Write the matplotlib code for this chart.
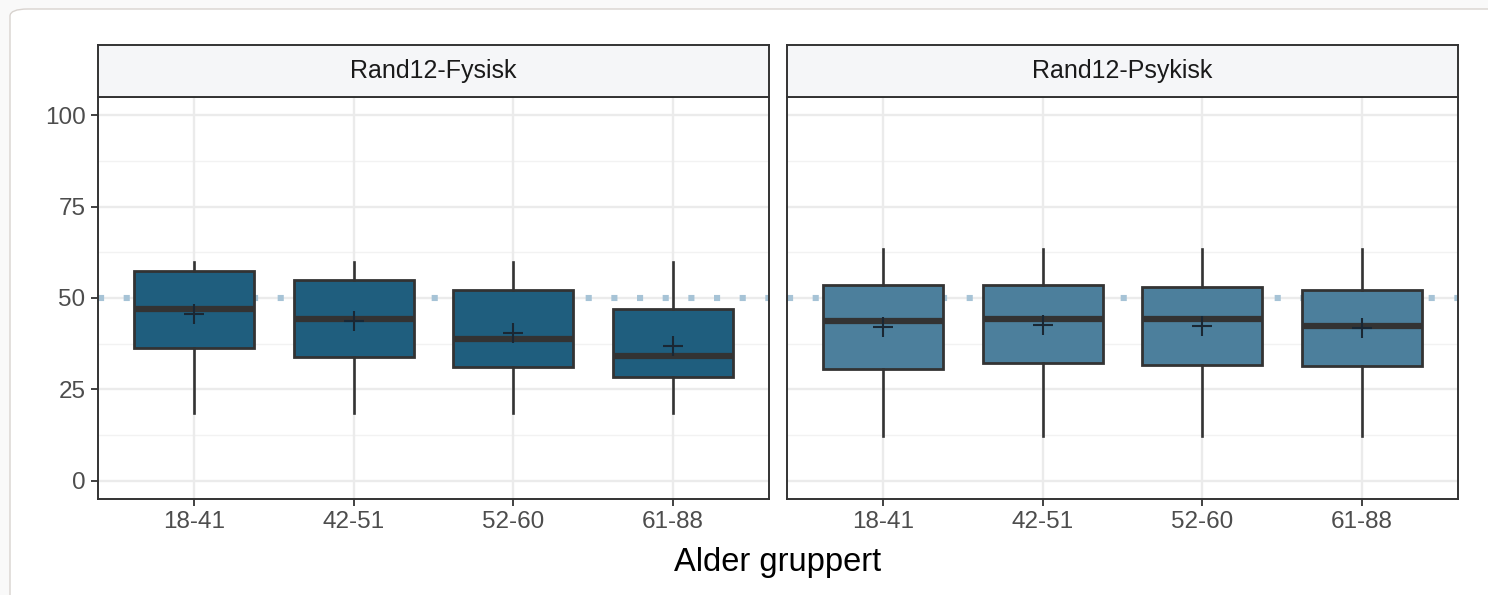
import matplotlib
matplotlib.use("Agg")
import matplotlib.pyplot as plt
from matplotlib.patches import FancyBboxPatch
import numpy as np

plt.rcParams["font.family"] = ["Liberation Sans", "DejaVu Sans"]

# ---------------------------------------------------------------------------
# Data
# ---------------------------------------------------------------------------
panels = ["Rand12-Fysisk", "Rand12-Psykisk"]
groups = ["18-41", "42-51", "52-60", "61-88"]

fys_low = [18.5, 18.5, 18.5, 18.5]
fys_q1 = [36.4, 33.9, 31.2, 28.5]
fys_med = [46.9, 44.3, 38.9, 34.0]
fys_q3 = [57.3, 54.9, 52.2, 47.0]
fys_high = [59.8, 59.8, 59.8, 59.8]
fys_mean = [45.6, 43.6, 40.5, 37.0]

psy_low = [12.2, 12.2, 12.2, 12.2]
psy_q1 = [30.6, 32.2, 31.8, 31.3]
psy_med = [43.7, 44.3, 44.3, 42.4]
psy_q3 = [53.5, 53.5, 52.9, 52.2]
psy_high = [63.5, 63.5, 63.5, 63.5]
psy_mean = [42.0, 42.7, 42.4, 41.8]

ref_line = 50
y_ticks = [0, 25, 50, 75, 100]
y_minor = [12.5, 37.5, 62.5, 87.5]

panel_data = [
    (fys_low, fys_q1, fys_med, fys_q3, fys_high, fys_mean, "#1f5e7e"),
    (psy_low, psy_q1, psy_med, psy_q3, psy_high, psy_mean, "#4c7f9c"),
]

# ---------------------------------------------------------------------------
# Figure
# ---------------------------------------------------------------------------
W, H = 1488, 595
fig = plt.figure(figsize=(W / 100, H / 100), dpi=100)
fig.patch.set_facecolor("#f9f9f9")

# card background
card = FancyBboxPatch((10 / W, -0.05), 1.1, 1 - 9 / H + 0.05,
                      boxstyle="round,pad=0,rounding_size=0.012",
                      transform=fig.transFigure, facecolor="white",
                      edgecolor="#d8d3cf", linewidth=1.0, zorder=-10)
fig.patches.append(card)

edge = "#333333"
lefts = [98, 787]
pw = 671
ax_bottom, ax_top = 499, 97
strip_top = 45

for i, (name, pdata) in enumerate(zip(panels, panel_data)):
    low, q1, med, q3, high, mean, fill = pdata
    ax = fig.add_axes([lefts[i] / W, (H - ax_bottom) / H, pw / W, (ax_bottom - ax_top) / H])
    ax.set_facecolor("white")

    x = np.arange(1, len(groups) + 1)
    ax.set_xlim(0.4, len(groups) + 0.6)
    ax.set_ylim(-5, 105)

    # grid
    for yv in y_minor:
        ax.axhline(yv, color="#f2f2f2", lw=1.0, zorder=0)
    for yv in y_ticks:
        ax.axhline(yv, color="#ebebeb", lw=1.7, zorder=0)
    for xv in x:
        ax.axvline(xv, color="#ebebeb", lw=1.7, zorder=0)

    ax.axhline(ref_line, color="#a6c3d6", lw=4.4, linestyle=(0, (1, 3.2)),
               dash_capstyle="butt", zorder=1)

    stats = []
    for k in range(len(groups)):
        stats.append(dict(whislo=low[k], q1=q1[k], med=med[k], q3=q3[k],
                          whishi=high[k], fliers=[]))
    ax.bxp(stats, positions=x, widths=0.75, patch_artist=True, showcaps=False,
           boxprops=dict(facecolor=fill, edgecolor=edge, linewidth=2.0),
           medianprops=dict(color=edge, linewidth=4.5, solid_capstyle="butt"),
           whiskerprops=dict(color=edge, linewidth=1.9),
           manage_ticks=False, zorder=2)
    ax.plot(x, mean, linestyle="none", marker="+", markersize=15,
            markeredgewidth=1.5, color="#1a2733", zorder=4)

    ax.set_xticks(x)
    ax.set_xticklabels(groups)
    ax.set_yticks(y_ticks)
    ax.tick_params(axis="both", colors=edge, length=5, width=1.3,
                   labelsize=17.5, labelcolor="#4d4d4d", pad=4)
    if i > 0:
        ax.tick_params(axis="y", left=False, labelleft=False)
    for sp in ax.spines.values():
        sp.set_edgecolor(edge)
        sp.set_linewidth(1.4)

    # facet strip
    sax = fig.add_axes([lefts[i] / W, (H - ax_top) / H, pw / W, (ax_top - strip_top) / H])
    sax.set_facecolor("#f5f6f8")
    sax.set_xticks([])
    sax.set_yticks([])
    for sp in sax.spines.values():
        sp.set_edgecolor(edge)
        sp.set_linewidth(1.4)
    sax.text(0.5, 0.5, name, ha="center", va="center", fontsize=18,
             color="#1a1a1a", transform=sax.transAxes)

fig.text((98 + 1457) / 2 / W, (H - 563) / H, "Alder gruppert", ha="center",
         va="center", fontsize=23.5, color="black")

fig.savefig("out.png", dpi=100, facecolor=fig.get_facecolor())
